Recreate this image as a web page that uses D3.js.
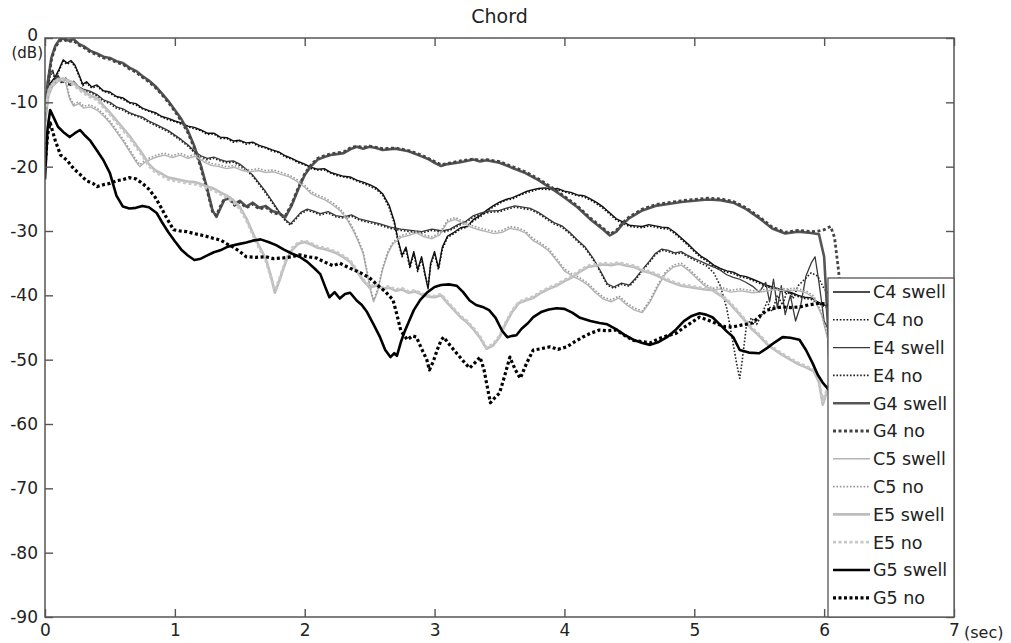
<!DOCTYPE html>
<html>
<head>
<meta charset="utf-8">
<script src="https://cdn.jsdelivr.net/npm/d3@7"></script>
<style>
  body { margin: 0; background: #fff; }
  svg { display: block; font-family: "DejaVu Sans", sans-serif; }
</style>
</head>
<body>
<div id="chart"></div>
<script>
// decay curves, [time (sec), level (dB)]
const c4Swell = [[0,-10],[0.02,-7.5],[0.05,-6.8],[0.08,-6],[0.11,-4.8],[0.14,-3.4],[0.17,-3.9],[0.2,-3.5],[0.23,-4.2],[0.26,-5.6],[0.29,-7.2],[0.32,-6.8],[0.36,-7.6],[0.4,-7.3],[0.45,-8.2],[0.5,-8.4],[0.55,-9.1],[0.6,-9.3],[0.65,-10],[0.7,-10.2],[0.75,-10.9],[0.8,-11.3],[0.85,-11.6],[0.9,-12.2],[0.95,-12.5],[1.0,-12.9],[1.05,-13.2],[1.1,-13.7],[1.15,-13.9],[1.2,-14.3],[1.25,-14.8],[1.3,-14.8],[1.35,-15.4],[1.4,-15.5],[1.45,-16],[1.5,-15.9],[1.55,-16.3],[1.6,-16.2],[1.65,-16.7],[1.7,-17],[1.75,-17.4],[1.8,-17.7],[1.85,-18.3],[1.9,-18.7],[1.95,-19.2],[2.0,-19.6],[2.05,-20.1],[2.1,-20.4],[2.15,-20.3],[2.2,-20.9],[2.25,-21.2],[2.3,-21.5],[2.35,-21.6],[2.4,-22.1],[2.45,-22.4],[2.5,-22.8],[2.55,-23.3],[2.6,-24.2],[2.65,-26],[2.69,-28.5],[2.72,-31.5],[2.75,-33.8],[2.78,-32.5],[2.81,-35.5],[2.84,-33.2],[2.87,-36],[2.9,-34],[2.93,-37],[2.95,-39],[2.97,-35],[3.0,-33.2],[3.03,-35.8],[3.06,-32.5],[3.1,-30.8],[3.15,-30.2],[3.2,-29.5],[3.25,-29.3],[3.3,-28.2],[3.35,-27.6],[3.4,-26.8],[3.45,-26.1],[3.5,-25.5],[3.55,-25.1],[3.6,-24.8],[3.65,-24.4],[3.7,-23.9],[3.75,-23.6],[3.8,-23.4],[3.85,-23.3],[3.9,-23.5],[3.95,-23.4],[4.0,-23.8],[4.05,-24],[4.1,-24.4],[4.15,-24.5],[4.2,-25],[4.25,-25.6],[4.3,-26.3],[4.35,-27.2],[4.4,-28.1],[4.45,-28.6],[4.5,-29.1],[4.55,-29.2],[4.6,-29.3],[4.65,-29],[4.7,-29.2],[4.75,-29.4],[4.8,-29.5],[4.85,-30.2],[4.9,-31.1],[4.95,-32],[5.0,-33],[5.05,-33.9],[5.1,-34.5],[5.15,-35.3],[5.2,-35.8],[5.25,-36.2],[5.3,-36.4],[5.35,-36.9],[5.4,-37.1],[5.45,-37.5],[5.5,-37.9],[5.55,-38.4],[5.6,-38.7],[5.65,-39],[5.7,-39.3],[5.75,-39.6],[5.8,-40],[5.85,-40.3],[5.9,-40.4],[5.95,-41],[6.0,-41.5],[6.05,-42],[6.1,-43]];
const c4No = [[0,-11],[0.02,-8],[0.05,-7],[0.08,-6.2],[0.11,-5],[0.14,-3.6],[0.17,-4.1],[0.2,-3.7],[0.23,-4.4],[0.26,-5.8],[0.29,-7.4],[0.32,-7],[0.36,-7.8],[0.4,-7.5],[0.45,-8.3],[0.5,-8.6],[0.55,-9.2],[0.6,-9.5],[0.65,-10.1],[0.7,-10.4],[0.75,-11],[0.8,-11.4],[0.85,-11.8],[0.9,-12.3],[0.95,-12.7],[1.0,-13],[1.05,-13.4],[1.1,-13.8],[1.15,-14.1],[1.2,-14.4],[1.25,-15],[1.3,-14.9],[1.35,-15.6],[1.4,-15.6],[1.45,-16.2],[1.5,-16],[1.55,-16.5],[1.6,-16.3],[1.65,-16.9],[1.7,-17.1],[1.75,-17.6],[1.8,-17.8],[1.85,-18.5],[1.9,-18.8],[1.95,-19.4],[2.0,-19.7],[2.05,-20.3],[2.1,-20.5],[2.15,-20.5],[2.2,-21],[2.25,-21.4],[2.3,-21.6],[2.35,-21.8],[2.4,-22.2],[2.45,-22.6],[2.5,-23],[2.55,-23.5],[2.6,-24.4],[2.65,-26.3],[2.69,-28.8],[2.72,-31.8],[2.75,-34],[2.78,-32.8],[2.81,-35.8],[2.84,-33.5],[2.87,-36.3],[2.9,-34.3],[2.93,-37.2],[2.95,-38.6],[2.97,-35.3],[3.0,-33.5],[3.03,-36],[3.06,-32.8],[3.1,-31],[3.15,-30.4],[3.2,-29.7],[3.25,-29.4],[3.3,-28.4],[3.35,-27.8],[3.4,-27],[3.45,-26.3],[3.5,-25.7],[3.55,-25.2],[3.6,-25],[3.65,-24.5],[3.7,-24.1],[3.75,-23.8],[3.8,-23.5],[3.85,-23.5],[3.9,-23.6],[3.95,-23.6],[4.0,-23.9],[4.05,-24.2],[4.1,-24.5],[4.15,-24.7],[4.2,-25.2],[4.25,-25.8],[4.3,-26.5],[4.35,-27.4],[4.4,-28.3],[4.45,-28.8],[4.5,-29.3],[4.55,-29.4],[4.6,-29.5],[4.65,-29.2],[4.7,-29.4],[4.75,-29.6],[4.8,-29.7],[4.85,-30.4],[4.9,-31.3],[4.95,-32.2],[5.0,-33.2],[5.05,-34.1],[5.1,-34.7],[5.15,-35.5],[5.2,-36],[5.25,-36.4],[5.3,-36.6],[5.35,-37.1],[5.4,-37.3],[5.45,-37.7],[5.5,-38.1],[5.55,-38.6],[5.6,-38.9],[5.65,-39.2],[5.7,-39.5],[5.75,-39.8],[5.8,-40.2],[5.85,-40.5],[5.9,-40.6],[5.95,-41.2],[6.0,-41.7],[6.05,-42.2],[6.1,-43.2]];
const e4Swell = [[0,-12],[0.02,-8],[0.04,-5.5],[0.06,-5],[0.08,-6.5],[0.1,-5.8],[0.13,-6.9],[0.16,-6.2],[0.19,-7.3],[0.22,-6.7],[0.26,-7.6],[0.3,-8],[0.35,-8.3],[0.4,-8.8],[0.45,-9.6],[0.5,-10],[0.55,-10.7],[0.6,-11],[0.65,-11.6],[0.7,-12],[0.75,-12.3],[0.8,-12.9],[0.85,-13.4],[0.9,-13.9],[0.95,-14.4],[1.0,-15.1],[1.05,-15.8],[1.1,-16.6],[1.15,-17.6],[1.2,-18.3],[1.25,-18.7],[1.3,-18.5],[1.35,-18.9],[1.4,-19.2],[1.45,-19.1],[1.5,-19.6],[1.55,-20.4],[1.6,-21.3],[1.65,-22.6],[1.7,-23.9],[1.75,-25.4],[1.8,-26.9],[1.85,-28.2],[1.89,-28.9],[1.93,-28],[1.97,-27.1],[2.02,-26.6],[2.07,-26.9],[2.12,-27.3],[2.18,-27],[2.24,-27.6],[2.3,-27.8],[2.36,-27.5],[2.42,-28.1],[2.5,-28.5],[2.58,-28.9],[2.66,-29.4],[2.74,-29.7],[2.82,-29.9],[2.9,-30.1],[2.98,-29.7],[3.06,-30],[3.12,-29.7],[3.18,-29],[3.24,-28.5],[3.3,-27.6],[3.36,-27.2],[3.42,-26.9],[3.5,-26.8],[3.56,-26.4],[3.62,-26.1],[3.68,-26.3],[3.74,-26.5],[3.8,-27.1],[3.86,-27.9],[3.92,-28.7],[3.98,-29.2],[4.04,-30.2],[4.1,-31.4],[4.16,-32.5],[4.22,-34.2],[4.28,-36.3],[4.33,-38.2],[4.38,-38.7],[4.44,-38.1],[4.5,-38.4],[4.55,-37.3],[4.6,-36],[4.65,-34.8],[4.7,-33.5],[4.75,-32.8],[4.8,-33],[4.85,-33.4],[4.9,-33.2],[4.95,-33.8],[5.0,-34.3],[5.05,-34.7],[5.1,-35.2],[5.15,-35.6],[5.2,-36.1],[5.25,-36.8],[5.3,-37.2],[5.35,-37.5],[5.4,-38],[5.45,-38.6],[5.5,-39.5],[5.55,-38],[5.58,-41],[5.61,-37.5],[5.64,-42],[5.67,-38.5],[5.7,-43],[5.74,-40],[5.78,-44],[5.82,-41.5],[5.86,-37],[5.9,-35],[5.93,-34],[5.96,-38],[6.0,-44],[6.05,-46],[6.1,-47]];
const e4No = [[0,-12.5],[0.02,-8.5],[0.04,-5.8],[0.06,-5.3],[0.08,-6.7],[0.1,-6],[0.13,-7.1],[0.16,-6.4],[0.19,-7.5],[0.22,-6.9],[0.26,-7.8],[0.3,-8.2],[0.35,-8.5],[0.4,-9],[0.45,-9.8],[0.5,-10.2],[0.55,-10.9],[0.6,-11.2],[0.65,-11.8],[0.7,-12.1],[0.75,-12.5],[0.8,-13.1],[0.85,-13.6],[0.9,-14.1],[0.95,-14.6],[1.0,-15.3],[1.05,-16],[1.1,-16.8],[1.15,-17.8],[1.2,-18.5],[1.25,-18.9],[1.3,-18.7],[1.35,-19.1],[1.4,-19.4],[1.45,-19.3],[1.5,-19.8],[1.55,-20.6],[1.6,-21.5],[1.65,-22.8],[1.7,-24.1],[1.75,-25.6],[1.8,-27.1],[1.85,-28.4],[1.89,-29.1],[1.93,-28.2],[1.97,-27.3],[2.02,-26.8],[2.07,-27.1],[2.12,-27.5],[2.18,-27.2],[2.24,-27.8],[2.3,-28],[2.36,-27.7],[2.42,-28.3],[2.5,-28.7],[2.58,-29.1],[2.66,-29.6],[2.74,-29.9],[2.82,-30.1],[2.9,-30.3],[2.98,-29.9],[3.06,-30.2],[3.12,-29.9],[3.18,-29.2],[3.24,-28.7],[3.3,-27.8],[3.36,-27.4],[3.42,-27.1],[3.5,-27],[3.56,-26.6],[3.62,-26.3],[3.68,-26.5],[3.74,-26.7],[3.8,-27.3],[3.86,-28.1],[3.92,-28.9],[3.98,-29.4],[4.04,-30.4],[4.1,-31.6],[4.16,-32.7],[4.22,-34.4],[4.28,-36.5],[4.33,-38.4],[4.38,-38.9],[4.44,-38.3],[4.5,-38.6],[4.55,-37.5],[4.6,-36.2],[4.65,-35],[4.7,-33.7],[4.75,-33],[4.8,-33.2],[4.85,-33.6],[4.9,-33.4],[4.95,-34],[5.0,-34.5],[5.05,-35],[5.1,-35.5],[5.15,-36.5],[5.2,-38.5],[5.25,-42],[5.29,-46.5],[5.33,-51],[5.35,-52.9],[5.37,-50],[5.4,-45],[5.44,-43.5],[5.48,-44.5],[5.52,-43],[5.56,-41],[5.6,-42.5],[5.64,-40],[5.68,-41.5],[5.72,-39],[5.76,-40.5],[5.8,-38.5],[5.85,-37.5],[5.9,-36.5],[5.95,-37],[6.0,-39],[6.05,-40],[6.1,-40.5]];
const g4Swell = [[0,-12],[0.02,-7],[0.05,-3],[0.08,-1.2],[0.11,-0.3],[0.14,0],[0.18,-0.4],[0.22,-0.2],[0.26,-0.9],[0.3,-1.3],[0.35,-2],[0.4,-2.4],[0.45,-2.9],[0.5,-3.1],[0.55,-3.6],[0.6,-3.9],[0.65,-4.6],[0.7,-5.1],[0.75,-5.9],[0.8,-6.6],[0.85,-7.5],[0.9,-8.6],[0.95,-9.8],[1.0,-11.2],[1.05,-12.6],[1.1,-14.4],[1.15,-16.8],[1.2,-19.8],[1.25,-23.5],[1.29,-26.8],[1.32,-27.8],[1.35,-26.5],[1.38,-25.2],[1.42,-24.8],[1.46,-25.8],[1.5,-25.3],[1.55,-26.2],[1.6,-25.6],[1.65,-26.4],[1.7,-26.1],[1.75,-26.9],[1.8,-27.2],[1.85,-27.9],[1.9,-26],[1.95,-23.5],[2.0,-21.3],[2.05,-19.9],[2.1,-18.9],[2.15,-18.5],[2.2,-18.2],[2.3,-17.9],[2.35,-17.3],[2.4,-16.9],[2.45,-17.2],[2.5,-16.9],[2.55,-17.1],[2.6,-17.4],[2.7,-17.2],[2.8,-17.6],[2.9,-18.4],[2.95,-18.8],[3.0,-19.4],[3.05,-19.9],[3.1,-19.6],[3.2,-19.3],[3.3,-18.9],[3.35,-19.2],[3.4,-19],[3.5,-19.4],[3.6,-20.2],[3.7,-21],[3.8,-22.1],[3.9,-23.4],[4.0,-24.8],[4.1,-26.3],[4.2,-28.2],[4.3,-29.8],[4.35,-30.7],[4.4,-30.1],[4.45,-28.9],[4.5,-28],[4.6,-26.8],[4.7,-26.1],[4.8,-25.8],[4.9,-25.5],[5.0,-25.3],[5.1,-25.1],[5.2,-25.2],[5.3,-25.6],[5.4,-26.6],[5.5,-28],[5.6,-29.6],[5.7,-30.4],[5.8,-30.1],[5.9,-30.3],[5.96,-30.5],[6.0,-34],[6.03,-45],[6.06,-62],[6.09,-80]];
const g4No = [[0,-13],[0.02,-7.5],[0.05,-3.3],[0.08,-1.4],[0.11,-0.5],[0.14,-0.2],[0.18,-0.6],[0.22,-0.4],[0.26,-1.1],[0.3,-1.5],[0.35,-2.2],[0.4,-2.6],[0.45,-3.1],[0.5,-3.3],[0.55,-3.8],[0.6,-4.1],[0.65,-4.8],[0.7,-5.3],[0.75,-6.1],[0.8,-6.8],[0.85,-7.7],[0.9,-8.8],[0.95,-10],[1.0,-11.4],[1.05,-12.9],[1.1,-14.7],[1.15,-17.1],[1.2,-20.1],[1.25,-23.8],[1.29,-27],[1.32,-27.6],[1.35,-26.2],[1.38,-25],[1.42,-25],[1.46,-26],[1.5,-25.5],[1.55,-26.4],[1.6,-25.8],[1.65,-26.6],[1.7,-26.3],[1.75,-27.1],[1.8,-27.4],[1.85,-27.7],[1.9,-25.8],[1.95,-23.3],[2.0,-21.1],[2.05,-19.7],[2.1,-18.7],[2.15,-18.3],[2.2,-18],[2.3,-17.7],[2.35,-17.1],[2.4,-16.8],[2.45,-17],[2.5,-16.8],[2.55,-17],[2.6,-17.2],[2.7,-17.1],[2.8,-17.5],[2.9,-18.2],[2.95,-18.7],[3.0,-19.2],[3.05,-19.7],[3.1,-19.5],[3.2,-19.1],[3.3,-18.8],[3.35,-19],[3.4,-18.9],[3.5,-19.2],[3.6,-20],[3.7,-20.8],[3.8,-21.9],[3.9,-23.2],[4.0,-24.6],[4.1,-26.1],[4.2,-28],[4.3,-29.6],[4.35,-30.5],[4.4,-29.9],[4.45,-28.7],[4.5,-27.8],[4.6,-26.6],[4.7,-25.9],[4.8,-25.6],[4.9,-25.3],[5.0,-25.1],[5.1,-24.9],[5.2,-25],[5.3,-25.4],[5.4,-26.4],[5.5,-27.8],[5.6,-29.4],[5.7,-30.2],[5.8,-29.9],[5.9,-30.1],[5.96,-30],[6.0,-29.8],[6.05,-29.3],[6.08,-31],[6.11,-36],[6.14,-42],[6.17,-50]];
const c5Swell = [[0,-14],[0.03,-9],[0.06,-7.5],[0.1,-6.8],[0.13,-6.5],[0.16,-7],[0.19,-9.5],[0.22,-10.6],[0.26,-10.2],[0.3,-10.9],[0.35,-10.7],[0.4,-11.2],[0.45,-12.1],[0.5,-13.2],[0.55,-14.6],[0.6,-16],[0.65,-17.6],[0.7,-19.2],[0.73,-20],[0.77,-19.3],[0.81,-18.9],[0.86,-18.5],[0.92,-18.2],[0.98,-18.6],[1.04,-18.2],[1.1,-18.7],[1.16,-18.4],[1.22,-19.2],[1.28,-19.8],[1.34,-20],[1.4,-20.3],[1.46,-20.1],[1.52,-20.6],[1.58,-20.8],[1.64,-20.6],[1.7,-20.9],[1.76,-20.8],[1.82,-21.2],[1.88,-21.6],[1.94,-22.3],[2.0,-23.2],[2.05,-24.2],[2.1,-24.7],[2.16,-25.2],[2.22,-26],[2.27,-26.8],[2.32,-28],[2.37,-29.8],[2.41,-31.5],[2.45,-33.5],[2.48,-36.5],[2.51,-39.5],[2.53,-41],[2.56,-39.5],[2.6,-36],[2.64,-33.5],[2.68,-32],[2.74,-31],[2.8,-30.7],[2.86,-30.3],[2.92,-30.9],[2.98,-31.2],[3.04,-30.6],[3.1,-28.6],[3.16,-28.2],[3.22,-28.8],[3.28,-29.4],[3.34,-29.8],[3.4,-30.1],[3.46,-30.4],[3.52,-30.2],[3.58,-29.6],[3.64,-29.8],[3.7,-30.3],[3.76,-31.5],[3.82,-32.2],[3.88,-33.1],[3.94,-34.6],[4.0,-36.2],[4.06,-37],[4.12,-37.6],[4.18,-38.4],[4.24,-39.6],[4.3,-40.6],[4.36,-41],[4.42,-40.4],[4.48,-41.5],[4.54,-42.3],[4.6,-42.7],[4.66,-41],[4.72,-38.6],[4.78,-36.6],[4.84,-35.6],[4.9,-35.3],[4.96,-36.2],[5.02,-37.4],[5.08,-38.5],[5.14,-39.2],[5.2,-39],[5.28,-39.5],[5.36,-39.3],[5.45,-39.6],[5.54,-39.4],[5.62,-39.1],[5.7,-39.3],[5.78,-39.2],[5.86,-39.6],[5.92,-40.4],[5.98,-43],[6.03,-47],[6.08,-49]];
const c5No = [[0,-13],[0.03,-8.5],[0.06,-7.2],[0.1,-6.6],[0.13,-6.3],[0.16,-6.8],[0.19,-9.2],[0.22,-10.3],[0.26,-9.9],[0.3,-10.6],[0.35,-10.4],[0.4,-10.9],[0.45,-11.8],[0.5,-12.9],[0.55,-14.3],[0.6,-15.7],[0.65,-17.3],[0.7,-18.9],[0.73,-19.7],[0.77,-19],[0.81,-18.6],[0.86,-18.2],[0.92,-17.9],[0.98,-18.3],[1.04,-17.9],[1.1,-18.4],[1.16,-18.1],[1.22,-18.9],[1.28,-19.5],[1.34,-19.7],[1.4,-20],[1.46,-19.8],[1.52,-20.3],[1.58,-20.5],[1.64,-20.3],[1.7,-20.6],[1.76,-20.5],[1.82,-20.9],[1.88,-21.3],[1.94,-22],[2.0,-22.9],[2.05,-23.9],[2.1,-24.4],[2.16,-24.9],[2.22,-25.7],[2.27,-26.5],[2.32,-27.7],[2.37,-29.5],[2.41,-31.2],[2.45,-33.2],[2.48,-36.2],[2.51,-39.2],[2.53,-40.7],[2.56,-39.2],[2.6,-35.7],[2.64,-33.2],[2.68,-31.7],[2.74,-30.7],[2.8,-30.4],[2.86,-30],[2.92,-30.6],[2.98,-30.9],[3.04,-30.3],[3.1,-28.3],[3.16,-27.9],[3.22,-28.5],[3.28,-29.1],[3.34,-29.5],[3.4,-29.8],[3.46,-30.1],[3.52,-29.9],[3.58,-29.3],[3.64,-29.5],[3.7,-30],[3.76,-31.2],[3.82,-31.9],[3.88,-32.8],[3.94,-34.3],[4.0,-35.9],[4.06,-36.7],[4.12,-37.3],[4.18,-38.1],[4.24,-39.3],[4.3,-40.3],[4.36,-40.7],[4.42,-40.1],[4.48,-41.2],[4.54,-42],[4.6,-42.4],[4.66,-40.7],[4.72,-38.3],[4.78,-36.3],[4.84,-35.3],[4.9,-35],[4.96,-35.9],[5.02,-37.1],[5.08,-38.2],[5.14,-38.9],[5.2,-38.7],[5.28,-39.2],[5.36,-39],[5.45,-39.3],[5.54,-39.1],[5.62,-38.8],[5.7,-39],[5.78,-38.9],[5.86,-39.3],[5.92,-40.1],[5.98,-42.7],[6.03,-46.7],[6.08,-48.7]];
const e5Swell = [[0,-11],[0.03,-8],[0.07,-6.8],[0.1,-6.4],[0.14,-6.3],[0.18,-6.6],[0.22,-7],[0.26,-7.8],[0.3,-8.3],[0.35,-9],[0.4,-9.3],[0.45,-10.5],[0.5,-11.6],[0.55,-12.8],[0.6,-14],[0.65,-15.2],[0.7,-16.6],[0.75,-18],[0.8,-19.6],[0.85,-20.6],[0.9,-21.1],[0.95,-21.7],[1.0,-21.9],[1.05,-22.1],[1.1,-22.3],[1.15,-22.4],[1.2,-22.7],[1.25,-23.1],[1.3,-23.4],[1.35,-24],[1.4,-24.5],[1.45,-25.2],[1.5,-26.3],[1.55,-28],[1.6,-30.3],[1.65,-32.4],[1.7,-34.3],[1.74,-37],[1.77,-39.6],[1.8,-38],[1.83,-36.2],[1.86,-34.5],[1.9,-33],[1.95,-32],[2.0,-31.7],[2.05,-32.1],[2.1,-32.6],[2.15,-32.8],[2.2,-33.1],[2.25,-33.5],[2.3,-34.1],[2.35,-34.8],[2.4,-36.2],[2.45,-37.7],[2.5,-38.8],[2.55,-38.5],[2.6,-39],[2.65,-38.8],[2.7,-39.3],[2.75,-39.1],[2.8,-39.6],[2.85,-39.4],[2.9,-39.9],[2.95,-40.2],[3.0,-40.3],[3.05,-40],[3.1,-41.2],[3.15,-42.3],[3.2,-43.4],[3.25,-44.2],[3.3,-45.3],[3.35,-46.6],[3.4,-48.3],[3.45,-47.8],[3.5,-46.5],[3.55,-44.3],[3.6,-42.5],[3.65,-41.2],[3.7,-40.8],[3.76,-40.4],[3.82,-39.6],[3.88,-39],[3.94,-38.5],[4.0,-37.8],[4.06,-37.2],[4.12,-36.3],[4.18,-35.6],[4.24,-35.4],[4.3,-35.2],[4.36,-35.3],[4.42,-35.1],[4.48,-35.4],[4.54,-35.6],[4.6,-36.2],[4.66,-36.5],[4.72,-37],[4.78,-37.6],[4.84,-38.1],[4.9,-38.5],[4.96,-38.7],[5.02,-38.9],[5.08,-39.1],[5.14,-39.2],[5.2,-40],[5.26,-41],[5.32,-42.3],[5.38,-43.7],[5.44,-45.2],[5.5,-46.3],[5.56,-47.6],[5.62,-48.5],[5.68,-49.3],[5.74,-50],[5.8,-50.7],[5.86,-51.2],[5.92,-51.8],[5.96,-53.5],[5.99,-57],[6.02,-55],[6.06,-52]];
const e5No = [[0,-11.5],[0.03,-8.3],[0.07,-7],[0.1,-6.6],[0.14,-6.5],[0.18,-6.8],[0.22,-7.3],[0.26,-8],[0.3,-8.6],[0.35,-9.2],[0.4,-9.6],[0.45,-10.8],[0.5,-11.9],[0.55,-13.1],[0.6,-14.3],[0.65,-15.5],[0.7,-16.9],[0.75,-18.3],[0.8,-19.9],[0.85,-20.9],[0.9,-21.4],[0.95,-22],[1.0,-22.2],[1.05,-22.4],[1.1,-22.6],[1.15,-22.7],[1.2,-23],[1.25,-23.4],[1.3,-23.7],[1.35,-24.3],[1.4,-24.8],[1.45,-25.5],[1.5,-26.6],[1.55,-28.3],[1.6,-30.6],[1.65,-32.7],[1.7,-34.6],[1.74,-37.3],[1.77,-39.2],[1.8,-37.7],[1.83,-35.9],[1.86,-34.2],[1.9,-32.7],[1.95,-31.8],[2.0,-31.5],[2.05,-31.9],[2.1,-32.4],[2.15,-32.6],[2.2,-32.9],[2.25,-33.3],[2.3,-33.9],[2.35,-34.6],[2.4,-36],[2.45,-37.5],[2.5,-38.6],[2.55,-38.3],[2.6,-38.8],[2.65,-38.6],[2.7,-39.1],[2.75,-38.9],[2.8,-39.4],[2.85,-39.2],[2.9,-39.7],[2.95,-40],[3.0,-40.1],[3.05,-39.8],[3.1,-41],[3.15,-42.1],[3.2,-43.2],[3.25,-44],[3.3,-45.1],[3.35,-46.4],[3.4,-48.1],[3.45,-47.6],[3.5,-46.3],[3.55,-44.1],[3.6,-42.3],[3.65,-41],[3.7,-40.6],[3.76,-40.2],[3.82,-39.4],[3.88,-38.8],[3.94,-38.3],[4.0,-37.6],[4.06,-37],[4.12,-36.1],[4.18,-35.4],[4.24,-35.2],[4.3,-35],[4.36,-35.1],[4.42,-34.9],[4.48,-35.2],[4.54,-35.4],[4.6,-36],[4.66,-36.3],[4.72,-36.8],[4.78,-37.4],[4.84,-37.9],[4.9,-38.3],[4.96,-38.5],[5.02,-38.7],[5.08,-38.9],[5.14,-39],[5.2,-39.8],[5.26,-40.8],[5.32,-42.1],[5.38,-43.5],[5.44,-45],[5.5,-46.1],[5.56,-47.4],[5.62,-48.3],[5.68,-49.1],[5.74,-49.8],[5.8,-50.5],[5.86,-51],[5.92,-51.6],[5.96,-53.3],[5.99,-56.5],[6.02,-54.7],[6.06,-51.8]];
const g5Swell = [[0,-22],[0.02,-14],[0.04,-11.2],[0.07,-12.5],[0.1,-13.8],[0.14,-14.6],[0.19,-15.4],[0.23,-14.8],[0.27,-14.3],[0.31,-15.2],[0.35,-16],[0.4,-17.5],[0.45,-19],[0.5,-21],[0.55,-24.5],[0.6,-26.2],[0.65,-26.5],[0.7,-26.4],[0.75,-26.1],[0.8,-26.3],[0.86,-27.2],[0.9,-28.6],[0.95,-30.2],[1.0,-31.6],[1.05,-32.9],[1.1,-33.8],[1.15,-34.5],[1.2,-34.3],[1.25,-33.8],[1.3,-33.3],[1.35,-33],[1.4,-32.5],[1.45,-32.2],[1.5,-32],[1.55,-31.8],[1.6,-31.5],[1.66,-31.3],[1.72,-31.7],[1.78,-32.2],[1.84,-32.9],[1.9,-33.5],[1.96,-34],[2.02,-34.8],[2.08,-35.9],[2.12,-36.7],[2.16,-38.8],[2.19,-40.3],[2.23,-39.5],[2.27,-40.5],[2.31,-39.8],[2.35,-39.6],[2.4,-40.8],[2.44,-41.5],[2.48,-42.6],[2.53,-44.5],[2.58,-46.5],[2.62,-48.5],[2.66,-49.6],[2.69,-49],[2.71,-49.4],[2.74,-47.3],[2.77,-45.6],[2.8,-44.2],[2.84,-42.3],[2.89,-40.7],[2.94,-39.6],[3.0,-38.7],[3.05,-38.4],[3.11,-38.3],[3.17,-38.5],[3.22,-39.5],[3.27,-40.8],[3.32,-41.5],[3.37,-41.8],[3.42,-42.3],[3.47,-43.5],[3.52,-45.5],[3.56,-46.5],[3.6,-46.3],[3.63,-46.2],[3.67,-45.2],[3.72,-44.3],[3.76,-43.4],[3.82,-42.6],[3.88,-42.2],[3.94,-42],[4.0,-42.1],[4.06,-42.7],[4.12,-43.5],[4.2,-44],[4.27,-44.3],[4.33,-44.5],[4.4,-45.3],[4.46,-46.1],[4.53,-46.9],[4.6,-47.4],[4.66,-47.7],[4.72,-47.3],[4.79,-46.5],[4.86,-45.3],[4.92,-44],[4.98,-43.2],[5.04,-42.8],[5.09,-43],[5.14,-43.4],[5.2,-44.6],[5.25,-45.6],[5.3,-46.5],[5.35,-48.5],[5.42,-48.9],[5.5,-49],[5.56,-48.2],[5.62,-47.3],[5.68,-46.5],[5.74,-46.6],[5.81,-46.9],[5.86,-48.5],[5.91,-50.5],[5.95,-52.3],[5.99,-53.6],[6.05,-55],[6.1,-56]];
const g5No = [[0,-20],[0.02,-15],[0.04,-13.2],[0.08,-16],[0.12,-18.2],[0.17,-19],[0.22,-20.3],[0.27,-21.2],[0.32,-22.2],[0.37,-22.6],[0.4,-23.1],[0.45,-22.8],[0.5,-22.6],[0.55,-22.2],[0.6,-22],[0.65,-21.7],[0.7,-21.9],[0.75,-22.6],[0.8,-23.5],[0.85,-24.8],[0.89,-26.2],[0.94,-28.1],[0.99,-29.8],[1.04,-30],[1.09,-30.1],[1.15,-30.4],[1.22,-30.7],[1.29,-31.1],[1.35,-31.4],[1.4,-32],[1.45,-32.5],[1.5,-33.2],[1.55,-34],[1.62,-34.1],[1.7,-34],[1.76,-34.3],[1.83,-34.2],[1.9,-34],[1.96,-33.7],[2.02,-34],[2.09,-34.2],[2.15,-34.8],[2.22,-35.4],[2.27,-35],[2.35,-35.8],[2.43,-36.5],[2.5,-37.3],[2.56,-38.4],[2.62,-39.4],[2.68,-40.7],[2.71,-43],[2.74,-45.5],[2.79,-46.9],[2.83,-46.3],[2.86,-46.5],[2.9,-48.3],[2.94,-50],[2.96,-51.6],[2.99,-50.3],[3.02,-48.5],[3.05,-47],[3.07,-46.5],[3.12,-47.8],[3.17,-49],[3.22,-50.2],[3.27,-51.3],[3.31,-50.5],[3.35,-49.6],[3.38,-51.5],[3.4,-53.6],[3.43,-56.7],[3.46,-56],[3.5,-55.2],[3.54,-52.5],[3.58,-49.6],[3.62,-51.5],[3.66,-52.9],[3.71,-50.5],[3.76,-48.5],[3.82,-48.3],[3.89,-48],[3.95,-48.4],[4.02,-48],[4.08,-47.2],[4.14,-46.5],[4.2,-45.9],[4.27,-45.4],[4.33,-45.5],[4.4,-45.4],[4.46,-46.2],[4.53,-47],[4.6,-47.2],[4.66,-47.4],[4.72,-46.8],[4.79,-46.3],[4.86,-45.9],[4.92,-45],[4.98,-44.2],[5.04,-43.4],[5.1,-43.8],[5.17,-44.4],[5.24,-44.9],[5.3,-44.9],[5.37,-44.6],[5.45,-44.3],[5.5,-43.3],[5.56,-42.3],[5.62,-42],[5.68,-41.8],[5.74,-41.9],[5.81,-41.8],[5.88,-41.5],[5.97,-41.2],[6.03,-41.5],[6.1,-42]];

const seriesNames = ["C4 swell", "C4 no", "E4 swell", "E4 no", "G4 swell", "G4 no",
                     "C5 swell", "C5 no", "E5 swell", "E5 no", "G5 swell", "G5 no"];
const seriesData = [c4Swell, c4No, e4Swell, e4No, g4Swell, g4No,
                    c5Swell, c5No, e5Swell, e5No, g5Swell, g5No];
const xTicks = [0, 1, 2, 3, 4, 5, 6, 7];
const yTicks = [0, -10, -20, -30, -40, -50, -60, -70, -80, -90];

// stroke style per series
const styles = [
    { color: "#111", width: 1.4, dash: null },
    { color: "#111", width: 1.6, dash: "1.6,1.8" },
    { color: "#3a3a3a", width: 1.3, dash: null },
    { color: "#222", width: 1.6, dash: "1.6,1.8" },
    { color: "#555", width: 2.6, dash: null },
    { color: "#444", width: 2.8, dash: "3,2.5" },
    { color: "#b4b4b4", width: 1.4, dash: null },
    { color: "#999", width: 1.6, dash: "1.6,1.8" },
    { color: "#bdbdbd", width: 2.6, dash: null },
    { color: "#c8c8c8", width: 2.8, dash: "3,2.5" },
    { color: "#000", width: 2.6, dash: null },
    { color: "#000", width: 3.2, dash: "3,2.5" }
];

const W = 1011, H = 643;
const margin = { left: 45, right: 954, top: 38, bottom: 617 };

const svg = d3.select("#chart").append("svg")
    .attr("width", W)
    .attr("height", H);

const x = d3.scaleLinear().domain([0, 7]).range([margin.left, margin.right]);
const y = d3.scaleLinear().domain([-90, 0]).range([margin.bottom, margin.top]);

svg.append("defs").append("clipPath")
    .attr("id", "plot")
    .append("rect")
    .attr("x", margin.left).attr("y", margin.top)
    .attr("width", margin.right - margin.left).attr("height", margin.bottom - margin.top);

// title
svg.append("text")
    .attr("x", (margin.left + margin.right) / 2)
    .attr("y", 23)
    .attr("text-anchor", "middle")
    .style("font-size", "19px")
    .style("fill", "#222")
    .text("Chord");

// lines
const line = d3.line()
    .x(d => x(d[0]))
    .y(d => y(d[1]));

svg.append("g")
    .attr("clip-path", "url(#plot)")
    .selectAll("path")
    .data(seriesData)
    .enter()
    .append("path")
    .attr("d", line)
    .attr("fill", "none")
    .attr("stroke", (d, i) => styles[i].color)
    .attr("stroke-width", (d, i) => styles[i].width)
    .attr("stroke-dasharray", (d, i) => styles[i].dash)
    .attr("stroke-linejoin", "round");

// axes, ticks pointing inwards
const axisColor = "#555";
function styleAxis(g) {
    g.select(".domain").remove();
    g.selectAll(".tick line").attr("stroke", axisColor).attr("stroke-width", 1.4);
    g.selectAll(".tick text").style("font-size", "17px").style("fill", "#222")
        .style("font-family", "DejaVu Sans, sans-serif");
}

svg.append("g")
    .attr("transform", `translate(0,${margin.bottom})`)
    .call(d3.axisBottom(x).tickValues(xTicks).tickSize(-8).tickPadding(7).tickFormat(d => String(d)))
    .call(styleAxis);

svg.append("g")
    .attr("transform", `translate(0,${margin.top})`)
    .call(d3.axisTop(x).tickValues(xTicks).tickSize(-8).tickFormat(""))
    .call(styleAxis);

const yAxis = svg.append("g")
    .attr("transform", `translate(${margin.left},0)`)
    .call(d3.axisLeft(y).tickValues(yTicks).tickSize(-8).tickPadding(7).tickFormat(d => String(d)))
    .call(styleAxis);

// the top label sits a little higher, above the unit
yAxis.selectAll(".tick text").filter(d => d === 0).attr("dy", "0.12em");

svg.append("g")
    .attr("transform", `translate(${margin.right},0)`)
    .call(d3.axisRight(y).tickValues(yTicks).tickSize(-8).tickFormat(""))
    .call(styleAxis);

svg.append("rect")
    .attr("x", margin.left).attr("y", margin.top)
    .attr("width", margin.right - margin.left).attr("height", margin.bottom - margin.top)
    .attr("fill", "none")
    .attr("stroke", axisColor)
    .attr("stroke-width", 1.5);

// unit labels
svg.append("text")
    .attr("x", 43).attr("y", 58)
    .attr("text-anchor", "end")
    .style("font-size", "15px").style("fill", "#222")
    .text("(dB)");

svg.append("text")
    .attr("x", 964).attr("y", 638)
    .style("font-size", "16px").style("fill", "#222")
    .text("(sec)");

// legend
const legX = 828, legY = 278, legStep = 27.8;
const legend = svg.append("g");

legend.append("rect")
    .attr("x", legX).attr("y", legY)
    .attr("width", margin.right - legX).attr("height", margin.bottom - legY)
    .attr("fill", "#fff")
    .attr("stroke", axisColor)
    .attr("stroke-width", 1.3);

const items = legend.selectAll("g.item")
    .data(seriesNames)
    .enter()
    .append("g")
    .attr("class", "item")
    .attr("transform", (d, i) => `translate(0,${legY + 14 + i * legStep})`);

items.append("line")
    .attr("x1", legX + 5).attr("x2", legX + 42)
    .attr("y1", 0).attr("y2", 0)
    .attr("stroke", (d, i) => styles[i].color)
    .attr("stroke-width", (d, i) => styles[i].width)
    .attr("stroke-dasharray", (d, i) => styles[i].dash);

items.append("text")
    .attr("x", legX + 45)
    .attr("y", 0)
    .attr("dy", "0.36em")
    .style("font-size", "17.5px")
    .style("fill", "#222")
    .text(d => d);
</script>
</body>
</html>
